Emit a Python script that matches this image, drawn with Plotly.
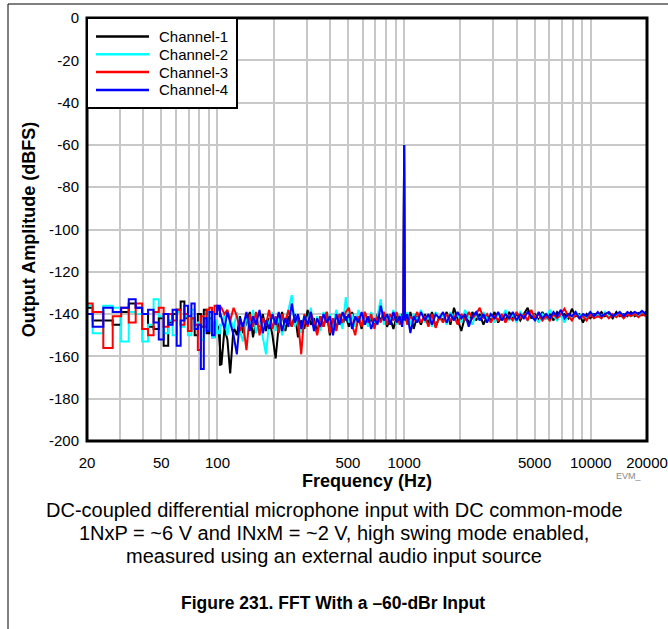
import math
import plotly.graph_objects as go

# ---------------- data ----------------
FREQ_LOW = [20, 23, 26, 29, 32, 35, 38, 41, 44, 47, 50, 53, 56, 59, 62, 65, 68, 71,
            74, 77, 80, 83, 86, 89, 92, 95, 98, 101]
FREQ_MID = [105, 109, 113, 117, 122, 127, 132, 137, 143, 149, 155, 161, 168, 175, 182,
            189, 197, 205, 213, 222, 231, 240, 250, 260, 270, 281, 292, 304, 316, 329,
            342, 356, 370, 385, 400, 416, 433, 450, 468, 487, 506, 526, 547, 569, 592,
            616, 640, 666, 693, 720, 749, 779, 810, 842, 876, 911, 947, 975, 990]
FREQ_TONE = [1000]
FREQ_HIGH = [1010, 1040, 1080, 1125, 1175, 1230, 1290, 1350, 1410, 1475, 1545, 1615,
             1690, 1770, 1850, 1935, 2025, 2120, 2220, 2320, 2430, 2540, 2660, 2780,
             2910, 3050, 3190, 3340, 3490, 3650, 3820, 4000, 4190, 4380, 4590, 4800,
             5020, 5260, 5500, 5760, 6030, 6310, 6600, 6910, 7230, 7570, 7920, 8290,
             8680, 9080, 9500, 9940, 10400, 10900, 11400, 11900, 12500, 13100, 13700,
             14300, 15000, 15700, 16400, 17200, 18000, 18800, 19700, 20000]

TONE_DB = [-60]

CH1_LOW = [-137, -143, -143, -145, -139, -135, -137, -140, -146, -147, -142, -155, -144,
           -140, -138, -134, -142, -148, -142, -150, -140, -146, -138, -149, -142, -151,
           -144, -146]
CH1_MID = [-164, -147, -152, -168, -146, -150, -141, -149, -144, -139, -151, -143, -146,
           -140, -148, -142, -150, -161, -145, -139, -148, -141, -146, -140, -151, -143,
           -147, -138, -145, -142, -149, -141, -146, -139, -150, -143, -147, -140, -145,
           -141, -146, -139, -144, -141, -147, -139, -145, -142, -146, -140, -143, -139,
           -146, -142, -147, -141, -144, -140, -142]
CH1_HIGH = [-141, -144, -139, -147, -141, -145, -140, -144, -139, -146, -141, -143, -139,
            -145, -137, -142, -148, -141, -144, -139, -143, -140, -145, -141, -143, -139,
            -144, -141, -143, -139, -142, -140, -143, -140, -137, -142, -140, -143, -139,
            -142, -140, -143, -139, -141, -140, -142, -137.5, -141, -140, -144, -140, -142,
            -140, -141, -139, -141, -140, -142, -139, -141, -140, -141, -139, -141, -139.5,
            -140.5, -139, -140]

CH2_LOW = [-136, -149, -136, -137, -153, -139, -140, -153, -145, -133, -141, -149, -143,
           -150, -139, -146, -141, -150, -138, -147, -144, -152, -141, -148, -139, -151,
           -143, -149]
CH2_MID = [-145, -140, -150, -142, -147, -139, -148, -153, -141, -146, -138, -149, -143,
           -151, -159, -144, -139, -148, -141, -150, -143, -138, -131, -146, -141, -149,
           -140, -145, -137, -147, -141, -148, -139, -144, -140, -146, -138, -143, -147,
           -132, -144, -140, -146, -138, -143, -140, -146, -139, -144, -141, -133, -145,
           -140, -143, -138, -145, -140, -143, -141]
CH2_HIGH = [-143, -139, -145, -140, -143, -138, -144, -141, -146, -139, -143, -140, -145,
            -139, -142, -140, -144, -138, -142, -145, -140, -143, -139, -142, -140, -144,
            -140, -142, -138, -143, -140, -144, -139, -141, -143, -139, -141, -144, -140,
            -142, -138, -141, -143, -140, -144, -140, -142, -139, -141, -140, -142, -139,
            -141, -140, -142, -139, -141, -140, -141, -139, -141, -139.5, -141, -140, -141,
            -139, -140, -139.5]

CH3_LOW = [-135, -139, -156, -141, -137, -144, -135, -147, -150, -139, -137, -146, -140,
           -143, -138, -145, -140, -148, -142, -145, -157, -141, -146, -138, -137, -139,
           -136, -138]
CH3_MID = [-137, -140, -138, -143, -137, -141, -148, -144, -157, -140, -146, -139, -150,
           -142, -145, -138, -147, -141, -149, -140, -144, -138, -146, -141, -143, -159,
           -140, -146, -139, -144, -150, -141, -146, -139, -149, -142, -148, -140, -144,
           -139, -137, -145, -150, -141, -146, -139, -144, -140, -147, -141, -144, -139,
           -145, -140, -143, -139, -145, -141, -143]
CH3_HIGH = [-140, -145, -141, -143, -139, -144, -141, -146, -140, -146.5, -141, -144, -140,
            -143, -141, -145, -140, -143, -139, -142, -140, -137, -142, -140, -144, -141,
            -143, -140, -144, -141, -143, -139, -142, -140, -143, -138, -142, -140, -143,
            -141, -143, -140, -142, -140, -137.5, -141, -143, -140, -142, -141, -143, -140,
            -142, -141, -142, -140, -142, -140, -141.5, -140, -142, -140, -141, -140,
            -141.5, -140, -141, -140]

CH4_LOW = [-140, -146, -137, -139, -137, -133, -137, -140, -138, -144, -152, -140, -145,
           -138, -155, -143, -136, -141, -135, -147, -145, -166, -142, -148, -139, -150,
           -140, -136]
CH4_MID = [-141, -147, -139, -144, -150, -159, -142, -146, -139, -148, -141, -145, -138,
           -149, -143, -147, -140, -145, -139, -148, -142, -146, -135, -144, -140, -147,
           -141, -145, -139, -148, -142, -146, -140, -144, -141, -150, -140, -145, -139,
           -143, -140, -147, -141, -144, -139, -145, -141, -147, -142, -145, -136, -143,
           -140, -145, -139, -144, -141, -146, -140]
CH4_HIGH = [-143, -140, -149, -141, -144, -139, -143, -140, -145, -140, -142, -139, -144,
            -140, -143, -139, -142, -140, -146, -141, -139, -143, -140, -144, -140, -142,
            -139, -143, -140, -142, -139, -143, -140, -142, -139, -141, -143, -139, -142,
            -140, -142, -139, -141, -138, -142, -140, -141, -139, -142, -140, -141, -139,
            -141, -139, -141, -140, -139, -141, -140, -139, -141, -139, -140, -139, -140,
            -138.5, -140, -139]

CHANNEL_NAMES = ["Channel-1", "Channel-2", "Channel-3", "Channel-4"]
CHANNEL_COLORS = ["#000000", "#00FFFF", "#FF0000", "#0000FF"]

X_GRID = [20, 30, 40, 50, 60, 70, 80, 90, 100, 200, 300, 400, 500, 600, 700, 800, 900,
          1000, 2000, 3000, 4000, 5000, 6000, 7000, 8000, 9000, 10000, 20000]
X_LABELED = [20, 50, 100, 500, 1000, 5000, 10000, 20000]
Y_TICKS = [-200, -180, -160, -140, -120, -100, -80, -60, -40, -20, 0]

# ---------------- figure ----------------
lows = [CH1_LOW, CH2_LOW, CH3_LOW, CH4_LOW]
rests = [CH1_MID + TONE_DB + CH1_HIGH, CH2_MID + TONE_DB + CH2_HIGH,
         CH3_MID + TONE_DB + CH3_HIGH, CH4_MID + TONE_DB + CH4_HIGH]
FREQ_REST = FREQ_MID + FREQ_TONE + FREQ_HIGH
for lo, re in zip(lows, rests):
    assert len(lo) == len(FREQ_LOW)
    assert len(re) == len(FREQ_REST)

FONT = "Liberation Sans, Arial, sans-serif"

fig = go.Figure()
for name, color, lo, re in zip(CHANNEL_NAMES, CHANNEL_COLORS, lows, rests):
    # low-frequency FFT bins are drawn as steps, the rest as a continuous trace
    fig.add_trace(go.Scatter(
        x=FREQ_LOW + FREQ_REST[:1], y=lo + re[:1], mode="lines", name=name,
        legendgroup=name, showlegend=False,
        line=dict(color=color, width=2, shape="hvh"),
    ))
    fig.add_trace(go.Scatter(
        x=FREQ_LOW[-1:] + FREQ_REST, y=lo[-1:] + re, mode="lines", name=name,
        legendgroup=name, showlegend=False,
        line=dict(color=color, width=2, shape="linear"),
    ))

fig.update_layout(
    width=668, height=629,
    margin=dict(l=87, r=21, t=18, b=188, autoexpand=False),
    paper_bgcolor="white", plot_bgcolor="white",
    font=dict(family=FONT, color="black", size=15),
    showlegend=False,
    xaxis=dict(
        type="log",
        range=[math.log10(20), math.log10(20000)],
        tickmode="array",
        tickvals=X_GRID,
        ticktext=[str(v) if v in X_LABELED else "" for v in X_GRID],
        showgrid=True, gridcolor="#c8c8c8", gridwidth=1.5,
        zeroline=False, showline=False, ticks="", automargin=False,
        ticklabelstandoff=11,
        tickfont=dict(family=FONT, size=15, color="black"),
        title=dict(text="<b>Frequency (Hz)</b>", standoff=0,
                   font=dict(family=FONT, size=18, color="black")),
    ),
    yaxis=dict(
        range=[-200, 0],
        tickmode="array",
        tickvals=Y_TICKS,
        ticktext=[str(v) for v in Y_TICKS],
        showgrid=True, gridcolor="#c8c8c8", gridwidth=1.5,
        zeroline=False, showline=False, ticks="", automargin=False,
        ticklabelstandoff=7,
        tickfont=dict(family=FONT, size=15, color="black"),
        title=dict(text="<b>Output Amplitude (dBFS)</b>", standoff=8,
                   font=dict(family=FONT, size=18, color="black")),
    ),
)


def py(pix):
    return (441 - pix) / 423


def px(pix):
    return (pix - 87) / 560


# plot frame and outer figure frame
fig.add_shape(type="rect", xref="paper", yref="paper", x0=0, x1=1, y0=0, y1=1,
              line=dict(color="black", width=3), layer="above")
fig.add_shape(type="rect", xref="paper", yref="paper",
              x0=px(8), x1=px(675), y0=py(640), y1=py(4),
              line=dict(color="black", width=1), layer="above")

# legend box (drawn with the chart's channel names and colours)
fig.add_shape(type="rect", xref="paper", yref="paper",
              x0=0, x1=px(237), y0=py(108), y1=1,
              fillcolor="white", line=dict(color="black", width=2), layer="above")
for i, (name, color) in enumerate(zip(CHANNEL_NAMES, CHANNEL_COLORS)):
    yy = py(36.5 + 17.8 * i)
    fig.add_shape(type="line", xref="paper", yref="paper",
                  x0=px(96), x1=px(149), y0=yy, y1=yy,
                  line=dict(color=color, width=2.5), layer="above")
    fig.add_annotation(text=name, x=px(157), y=yy, xref="paper", yref="paper",
                       xanchor="left", yanchor="middle", showarrow=False,
                       font=dict(family=FONT, size=15, color="black"))

fig.add_annotation(text="EVM_", x=px(614), y=py(476), xref="paper", yref="paper",
                   xanchor="left", yanchor="middle", showarrow=False,
                   font=dict(family=FONT, size=9, color="#888888"))

caption = [
    "DC-coupled differential microphone input with DC common-mode",
    "1NxP = ~6 V and INxM = ~2 V, high swing mode enabled,",
    "measured using an external audio input source",
]
for i, line in enumerate(caption):
    fig.add_annotation(text=line, x=px(334), y=py(510 + 23 * i), xref="paper", yref="paper",
                       xanchor="center", yanchor="middle", showarrow=False,
                       font=dict(family=FONT, size=20, color="black"))

fig.add_annotation(text="<b>Figure 231. FFT With a \u201360-dBr Input</b>",
                   x=px(333), y=py(603), xref="paper", yref="paper",
                   xanchor="center", yanchor="middle", showarrow=False,
                   font=dict(family=FONT, size=17.5, color="black"))

fig.write_html("out.html", config={"displayModeBar": False},
               post_script="document.body.style.margin='0';")
